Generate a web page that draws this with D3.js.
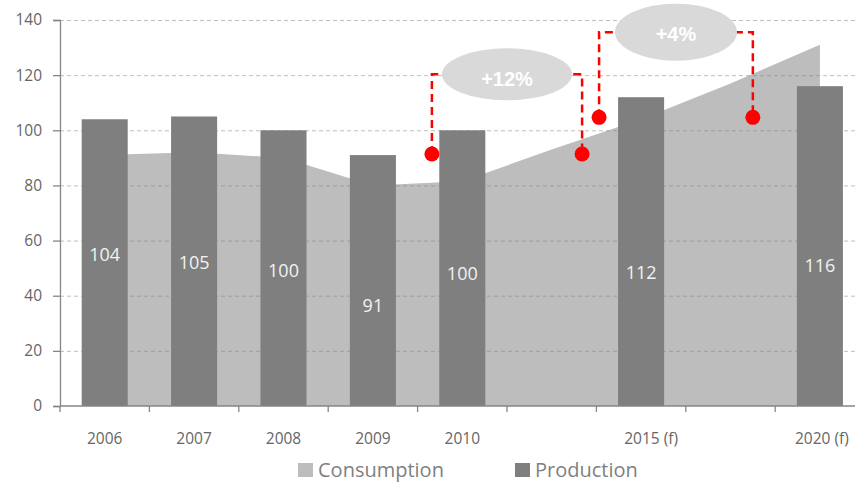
<!DOCTYPE html>
<html>
<head>
<meta charset="utf-8">
<script src="https://cdn.jsdelivr.net/npm/d3@7"></script>
<style>
  body { margin: 0; background: #fff; }
  text { font-family: "Open Sans", sans-serif; }
</style>
</head>
<body>
<script>
// chart data
var slots = ["2006", "2007", "2008", "2009", "2010", "2011", "2015 (f)", "2016", "2020 (f)"];
var slotLabels = ["2006", "2007", "2008", "2009", "2010", "", "2015 (f)", "", "2020 (f)"];
var production = [104, 105, 100, 91, 100, null, 112, null, 116];
var consumption = [91, 92, 90, 80, 81.5, 93, 104, 117, 131];
var labelAt = [55, 52, 49, 36.5, 48, null, 48.5, null, 51];
var yTicks = [0, 20, 40, 60, 80, 100, 120, 140];

// growth annotations (x in slot units, y in chart units)
var growthText = ["+12%", "+4%"];
var growthFrom = [4.16, 6.03];
var growthTo = [5.84, 7.75];
var growthFromVal = [91.4, 104.7];
var growthToVal = [91.4, 104.7];
var growthLevel = [120.3, 135.6];

var W = 856, H = 484;
var mLeft = 60, mRight = 864.6, mTop = 20, mBottom = 406;

var svg = d3.select("body").append("svg")
    .attr("width", W)
    .attr("height", H);

var x = d3.scaleBand().domain(slots).range([mLeft, mRight]).padding(0);
var xPos = d3.scaleLinear().domain([0, slots.length]).range([mLeft, mRight]);
var y = d3.scaleLinear().domain([0, 140]).range([mBottom, mTop]);

var barW = x.bandwidth() * 0.515;

// consumption area
var area = d3.area()
    .x(function(d, i) { return x(slots[i]) + x.bandwidth() / 2; })
    .y0(y(0))
    .y1(function(d) { return y(d); });

svg.append("path")
    .datum(consumption)
    .attr("d", area)
    .attr("fill", "#bdbdbd");

// grid lines
svg.append("g")
    .selectAll("line")
    .data(yTicks.filter(function(d) { return d > 0; }))
    .enter()
    .append("line")
    .attr("x1", mLeft)
    .attr("x2", W)
    .attr("y1", function(d) { return y(d) + 0.5; })
    .attr("y2", function(d) { return y(d) + 0.5; })
    .attr("stroke", "#808080")
    .attr("stroke-opacity", 0.5)
    .attr("stroke-width", 1)
    .attr("stroke-dasharray", "4,3");

// production bars
var barData = production.map(function(v, i) { return {slot: slots[i], v: v, lab: labelAt[i]}; })
    .filter(function(d) { return d.v !== null; });

svg.append("g")
    .selectAll("rect")
    .data(barData)
    .enter()
    .append("rect")
    .attr("x", function(d) { return x(d.slot) + (x.bandwidth() - barW) / 2; })
    .attr("y", function(d) { return y(d.v); })
    .attr("width", barW)
    .attr("height", function(d) { return y(0) - y(d.v); })
    .attr("fill", "#7f7f7f");

svg.append("g")
    .selectAll("text")
    .data(barData)
    .enter()
    .append("text")
    .attr("x", function(d) { return x(d.slot) + x.bandwidth() / 2; })
    .attr("y", function(d) { return y(d.lab); })
    .attr("dy", "0.35em")
    .attr("text-anchor", "middle")
    .attr("fill", "#f2f2f2")
    .style("font-size", "18px")
    .text(function(d) { return d.v; });

// y axis
var yAxis = svg.append("g")
    .attr("transform", "translate(" + mLeft + ",0)")
    .call(d3.axisLeft(y).tickValues(yTicks).tickSize(7).tickPadding(11));
yAxis.select(".domain").attr("stroke", "#868686").attr("stroke-width", 1.3);
yAxis.selectAll(".tick line").attr("stroke", "#868686").attr("stroke-width", 1.3);
yAxis.selectAll(".tick text")
    .attr("fill", "#666")
    .style("font-size", "15.5px")
    .style("font-family", "'Open Sans', sans-serif");

// x axis
var xAxisG = svg.append("g");
xAxisG.append("line")
    .attr("x1", mLeft)
    .attr("x2", 855)
    .attr("y1", mBottom)
    .attr("y2", mBottom)
    .attr("stroke", "#868686")
    .attr("stroke-width", 1.3);
xAxisG.selectAll(".tk")
    .data(d3.range(0, slots.length))
    .enter()
    .append("line")
    .attr("class", "tk")
    .attr("x1", function(d) { return xPos(d); })
    .attr("x2", function(d) { return xPos(d); })
    .attr("y1", mBottom)
    .attr("y2", mBottom + 6)
    .attr("stroke", "#868686")
    .attr("stroke-width", 1.3);
var labShift = {"2015 (f)": 10, "2020 (f)": 2};
xAxisG.selectAll(".lab")
    .data(slotLabels)
    .enter()
    .append("text")
    .attr("class", "lab")
    .attr("x", function(d, i) { return x(slots[i]) + x.bandwidth() / 2 + (labShift[d] || 0); })
    .attr("y", 444)
    .attr("text-anchor", "middle")
    .attr("fill", "#666")
    .style("font-size", "15.5px")
    .text(function(d) { return d; });

// growth annotations
var red = "#ff0000";
var bubbleRx = [65, 61], bubbleRy = [26, 28.5], textDy = [0.56, 0.46];
growthText.forEach(function(t, i) {
    var x1 = xPos(growthFrom[i]), x2 = xPos(growthTo[i]);
    var yl = y(growthLevel[i]);
    var g = svg.append("g");
    g.append("path")
        .attr("d", "M" + x1 + "," + y(growthFromVal[i]) + "V" + yl + "H" + x2 + "V" + y(growthToVal[i]))
        .attr("fill", "none")
        .attr("stroke", red)
        .attr("stroke-width", 2.5)
        .attr("stroke-dasharray", "8,5");
    g.append("ellipse")
        .attr("cx", (x1 + x2) / 2)
        .attr("cy", yl)
        .attr("rx", bubbleRx[i])
        .attr("ry", bubbleRy[i])
        .attr("fill", "#d9d9d9");
    g.append("text")
        .attr("x", (x1 + x2) / 2)
        .attr("y", yl)
        .attr("dy", textDy[i] + "em")
        .attr("text-anchor", "middle")
        .attr("fill", "#fff")
        .style("font-family", "'Liberation Sans', Arial, sans-serif")
        .style("font-weight", "bold")
        .style("font-size", "20px")
        .text(t);
    g.append("circle")
        .attr("cx", x1).attr("cy", y(growthFromVal[i])).attr("r", 7.5).attr("fill", red);
    g.append("circle")
        .attr("cx", x2).attr("cy", y(growthToVal[i])).attr("r", 7.5).attr("fill", red);
});

// legend
var legend = [{name: "Consumption", color: "#bdbdbd", x: 298}, {name: "Production", color: "#7f7f7f", x: 515}];
var lg = svg.append("g").selectAll("g")
    .data(legend)
    .enter()
    .append("g")
    .attr("transform", function(d) { return "translate(" + d.x + ",463)"; });
lg.append("rect")
    .attr("width", 15)
    .attr("height", 14)
    .attr("fill", function(d) { return d.color; });
lg.append("text")
    .attr("x", 20)
    .attr("y", 14)
    .attr("fill", "#7f7f7f")
    .style("font-size", "20px")
    .text(function(d) { return d.name; });
</script>
</body>
</html>
